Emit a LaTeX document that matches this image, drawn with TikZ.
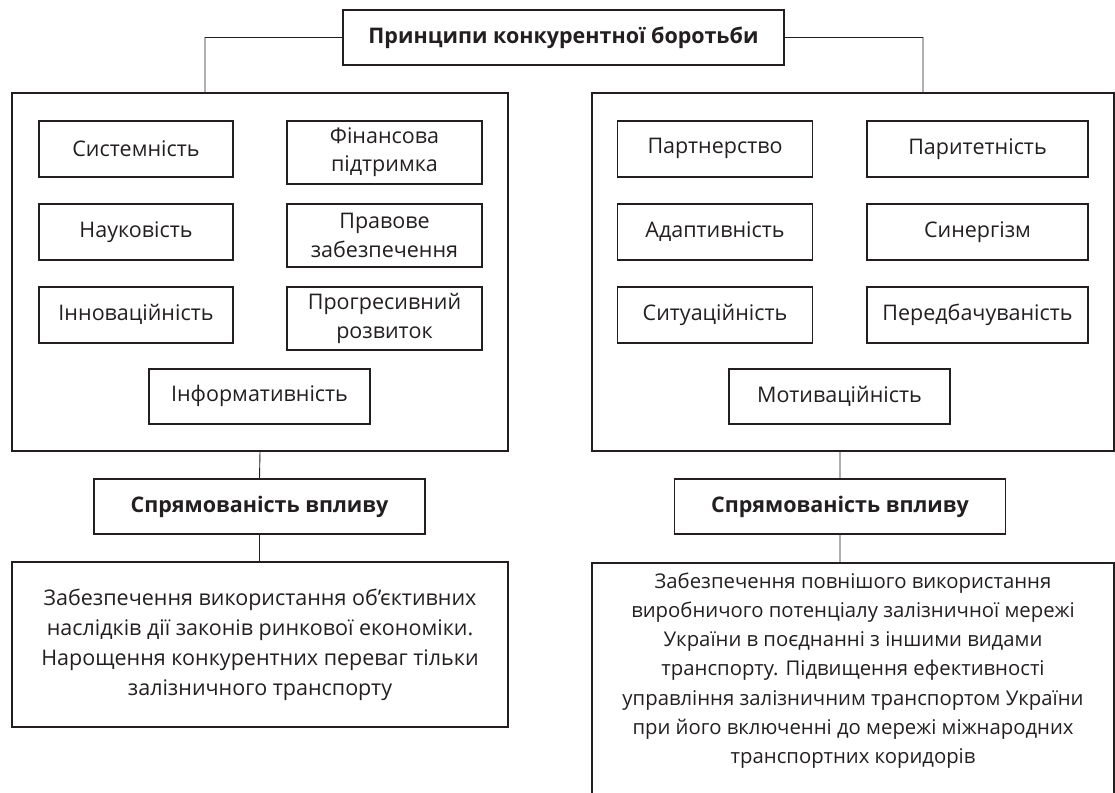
\documentclass[tikz,border=0pt]{standalone}
\usepackage{fontspec}
\setmainfont{Open Sans}
\usetikzlibrary{positioning}
\definecolor{ink}{HTML}{231F20}

\begin{document}
\begin{tikzpicture}[x=1pt,y=-1pt,on grid,node distance=83pt,
    every node/.style={text=ink,font=\fontsize{21.5}{28.5}\selectfont,
      inner sep=0pt,align=center},
    frame/.style={draw=ink,line width=1.7pt},
    head/.style={frame,font=\fontsize{21.5}{28.5}\selectfont\bfseries,
      minimum height=55pt},
    cell/.style={frame,minimum width=#1,minimum height=56pt,anchor=north},
    tall/.style={minimum height=63pt},
    link/.style={draw=ink,line width=0.9pt}]
  \useasboundingbox (0,0) rectangle (1115,792);
  \clip (0,0) rectangle (1115,792);

  \node[head,minimum width=441pt] (top) at (563.5,37.5)
    {Принципи конкурентної боротьби};

  % left group
  \node[frame,minimum width=496pt,minimum height=358pt] (lft) at (260,272) {};
  \node[cell=194pt] (sys) at (136,120) {Системність};
  \node[below=of sys.north,cell=194pt] (sci) {Науковість};
  \node[below=of sci.north,cell=194pt] (inn) {Інноваційність};
  \node[cell=195pt,tall] (fin) at (384.5,120) {Фінансова\\підтримка};
  \node[below=of fin.north,cell=195pt,tall] (law) {Правове\\забезпечення};
  \node[below=of law.north,cell=195pt,tall] (prog) {Прогресивний\\розвиток};
  \node[cell=221pt,minimum height=55pt] (inf) at (259.5,368) {Інформативність};

  % right group
  \node[frame,minimum width=522pt,minimum height=358pt] (rgt) at (853,272) {};
  \node[cell=195pt] (prt) at (715,120) {Партнерство};
  \node[below=of prt.north,cell=195pt] (adp) {Адаптивність};
  \node[below=of adp.north,cell=195pt] (sit) {Ситуаційність};
  \node[cell=221pt] (par) at (977.5,120) {Паритетність};
  \node[below=of par.north,cell=221pt] (syn) {Синергізм};
  \node[below=of syn.north,cell=221pt] (prd) {Передбачуваність};
  \node[cell=221pt,minimum height=55pt] (mot) at (839.5,368) {Мотиваційність};

  % direction of influence
  \node[head,minimum width=331pt] (dirl) at (259.5,506.5) {Спрямованість впливу};
  \node[head,minimum width=331pt] (dirr) at (840,506.5) {Спрямованість впливу};

  \node[frame,minimum width=496pt,minimum height=165pt,
    font=\fontsize{21.5}{30}\selectfont] (lowl) at (260,644.5)
    {Забезпечення використання об’єктивних\\
     наслідків дії законів ринкової економіки.\\
     Нарощення конкурентних переваг тільки\\
     залізничного транспорту};
  \node[frame,minimum width=522pt,minimum height=250pt,anchor=north] (lowr)
    at (853,562) {};
  \node[anchor=north,font=\fontsize{20.3}{29.2}\selectfont] (rtxt) at (853,572.5)
    {Забезпечення повнішого використання\\
     виробничого потенціалу залізничної мережі\\
     України в поєднанні з іншими видами\\
     транспорту. Підвищення ефективності\\
     управління залізничним транспортом України\\
     при його включенні до мережі міжнародних\\
     транспортних коридорів};

  \path[link] (top.west) -| ([xshift=-55pt]lft.north)
              (top.east) -| ([xshift=70pt]rgt.north)
              (lft.south) -- (dirl.north)
              (dirl.south) -- (dirl.south |- lowl.north)
              (dirr.north |- rgt.south) -- (dirr.north)
              (dirr.south) -- (dirr.south |- lowr.north);
\end{tikzpicture}
\end{document}
